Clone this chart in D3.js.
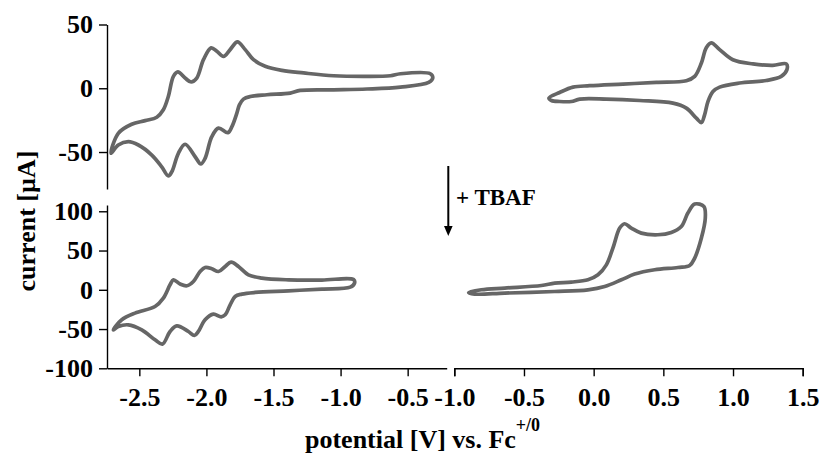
<!DOCTYPE html>
<html>
<head>
<meta charset="utf-8">
<script src="https://cdn.jsdelivr.net/npm/d3@7"></script>
<style>
  html, body { margin: 0; padding: 0; background: #fff; }
  svg { display: block; }
  text { font-family: "Liberation Serif", "Times New Roman", serif; font-weight: bold; fill: #000; }
</style>
</head>
<body>
<svg id="chart" width="821" height="456"></svg>
<script>
// Cyclic voltammograms: [potential (V vs Fc+/0), current (µA)], each a closed scan loop.
// Before TBAF, reduction window
const cvTopLeft = [
  [-2.711,-51.0],[-2.657,-35.3],[-2.557,-28.2],[-2.457,-25.4],[-2.370,-22.7],[-2.321,-16.9],
  [-2.284,-6.5],[-2.246,9.3],[-2.213,12.8],[-2.159,8.0],[-2.114,4.9],[-2.072,8.0],[-2.022,22.4],
  [-1.965,31.7],[-1.922,29.0],[-1.873,25.0],[-1.823,30.3],[-1.769,36.4],[-1.711,30.3],[-1.649,22.4],
  [-1.562,17.2],[-1.437,14.0],[-1.276,12.0],[-1.052,9.8],[-0.803,9.3],[-0.629,9.8],[-0.554,11.4],
  [-0.331,11.4],[-0.313,8.0],[-0.343,4.6],[-0.554,0.9],[-0.803,-0.6],[-1.052,-1.2],[-1.301,-1.7],
  [-1.375,-3.8],[-1.549,-5.1],[-1.674,-6.5],[-1.724,-8.5],[-1.754,-13.0],[-1.773,-19.5],[-1.810,-30.1],
  [-1.840,-34.8],[-1.910,-31.3],[-1.960,-38.0],[-2.010,-55.0],[-2.042,-59.4],[-2.084,-53.7],
  [-2.159,-43.9],[-2.209,-51.0],[-2.258,-65.5],[-2.284,-68.7],[-2.333,-61.6],[-2.407,-52.4],
  [-2.507,-44.5],[-2.582,-41.9],[-2.657,-44.5]
];
// Before TBAF, oxidation window
const cvTopRight = [
  [-0.321,-7.7],[-0.244,-3.3],[-0.148,0.9],[-0.029,2.0],[0.210,3.3],[0.450,4.6],[0.665,5.9],
  [0.725,9.3],[0.773,19.8],[0.808,31.7],[0.844,35.6],[0.904,30.3],[0.999,22.4],[1.143,19.1],
  [1.286,18.0],[1.382,19.1],[1.387,14.6],[1.346,9.3],[1.239,6.1],[1.047,4.1],[0.904,0.9],
  [0.856,-2.5],[0.820,-10.4],[0.796,-20.9],[0.773,-26.9],[0.737,-23.5],[0.665,-15.6],[0.569,-11.7],
  [0.330,-9.6],[0.091,-8.5],[-0.100,-8.5],[-0.160,-10.4],[-0.244,-10.4],[-0.303,-9.6]
];
// After TBAF, reduction window
const cvBottomLeft = [
  [-2.694,-51.0],[-2.631,-38.2],[-2.532,-29.7],[-2.383,-21.3],[-2.321,-10.6],[-2.271,6.4],
  [-2.246,12.7],[-2.196,7.3],[-2.146,5.1],[-2.097,10.6],[-2.047,23.3],[-2.010,28.4],[-1.960,26.8],
  [-1.910,23.3],[-1.860,29.7],[-1.816,35.3],[-1.761,29.7],[-1.687,19.1],[-1.587,14.9],[-1.388,12.7],
  [-1.139,12.4],[-0.903,13.1],[-0.896,8.5],[-0.928,3.4],[-1.139,0.9],[-1.388,-1.3],[-1.637,-3.4],
  [-1.736,-5.5],[-1.786,-8.5],[-1.823,-19.1],[-1.860,-31.8],[-1.890,-34.4],[-1.948,-31.0],
  [-2.010,-38.2],[-2.060,-53.1],[-2.090,-58.2],[-2.134,-53.1],[-2.221,-45.9],[-2.271,-53.1],
  [-2.328,-69.2],[-2.383,-63.7],[-2.482,-51.0],[-2.582,-44.6],[-2.657,-46.8]
];
// After TBAF, oxidation window
const cvBottomRight = [
  [-0.897,-3.4],[-0.806,0.0],[-0.638,2.2],[-0.375,5.5],[-0.280,8.5],[-0.160,9.8],[-0.041,12.7],
  [0.031,19.1],[0.091,31.8],[0.138,53.1],[0.187,78.6],[0.222,84.1],[0.270,78.6],[0.342,72.2],
  [0.461,70.1],[0.557,73.0],[0.629,80.6],[0.676,97.7],[0.725,109.2],[0.791,106.1],[0.801,91.3],
  [0.773,65.9],[0.725,40.4],[0.689,31.0],[0.605,28.4],[0.438,25.5],[0.294,20.0],[0.199,12.7],
  [0.079,4.2],[-0.041,0.0],[-0.280,-2.2],[-0.638,-4.2],[-0.854,-5.5]
];

// Axis ticks and their labels
const xLeftTicks = [-2.5, -2.0, -1.5, -1.0, -0.5];
const xLeftLabels = ["-2.5", "-2.0", "-1.5", "-1.0", "-0.5"];
const xRightTicks = [-1.0, -0.5, 0.0, 0.5, 1.0, 1.5];
const xRightLabels = ["-1.0", "-0.5", "0.0", "0.5", "1.0", "1.5"];
const yTopTicks = [-50, 0, 50];
const yTopLabels = ["-50", "0", "50"];
const yBotTicks = [-100, -50, 0, 50, 100];
const yBotLabels = ["-100", "-50", "0", "50", "100"];

const svg = d3.select("#chart");

// Scales: two potential windows side by side, two current panels stacked
const xLeft = d3.scaleLinear().domain([-2.741, -0.209]).range([107, 446.7]);
const xRight = d3.scaleLinear().domain([-1.0, 1.5]).range([454.3, 802.7]);
const yTop = d3.scaleLinear().domain([-79, 50]).range([189, 24.5]);
const yBot = d3.scaleLinear().domain([-100, 108]).range([368.3, 205]);

const tickFont = 26;

function styleAxis(g) {
  g.select(".domain").attr("stroke", "#000").attr("stroke-width", 1.4);
  g.selectAll(".tick line").attr("stroke", "#000").attr("stroke-width", 1.4);
  g.selectAll(".tick text")
    .attr("font-size", tickFont)
    .attr("font-family", "'Liberation Serif', 'Times New Roman', serif")
    .attr("font-weight", "bold")
    .attr("fill", "#000");
}

function labelFor(ticks, labels) {
  return d => labels[ticks.indexOf(d)];
}

// Y axes
svg.append("g").attr("transform", "translate(107,0)")
  .call(d3.axisLeft(yTop).tickValues(yTopTicks).tickFormat(labelFor(yTopTicks, yTopLabels))
    .tickSize(8).tickSizeOuter(0).tickPadding(6))
  .call(styleAxis);

svg.append("g").attr("transform", "translate(107,0)")
  .call(d3.axisLeft(yBot).tickValues(yBotTicks).tickFormat(labelFor(yBotTicks, yBotLabels))
    .tickSize(8).tickSizeOuter(0).tickPadding(6))
  .call(styleAxis);

// X axes (shared by both panels)
const xAxisY = yBot(-100);
svg.append("g").attr("transform", `translate(0,${xAxisY})`)
  .call(d3.axisBottom(xLeft).tickValues(xLeftTicks).tickFormat(labelFor(xLeftTicks, xLeftLabels))
    .tickSize(8).tickSizeOuter(0).tickPadding(11))
  .call(styleAxis);

svg.append("g").attr("transform", `translate(0,${xAxisY})`)
  .call(d3.axisBottom(xRight).tickValues(xRightTicks).tickFormat(labelFor(xRightTicks, xRightLabels))
    .tickSize(8).tickSizeOuter(8).tickPadding(11))
  .call(styleAxis);

// Voltammogram loops
const curveColor = "#666666";
function drawLoop(data, x, y) {
  const line = d3.line()
    .x(d => x(d[0]))
    .y(d => y(d[1]))
    .curve(d3.curveCatmullRomClosed.alpha(0.5));
  svg.append("path")
    .datum(data)
    .attr("d", line)
    .attr("fill", "none")
    .attr("stroke", curveColor)
    .attr("stroke-width", 3.7)
    .attr("stroke-linejoin", "round");
}
drawLoop(cvTopLeft, xLeft, yTop);
drawLoop(cvTopRight, xRight, yTop);
drawLoop(cvBottomLeft, xLeft, yBot);
drawLoop(cvBottomRight, xRight, yBot);

// Axis titles
svg.append("text")
  .attr("transform", "translate(35,221) rotate(-90)")
  .attr("text-anchor", "middle")
  .attr("font-size", 26)
  .text("current [µA]");

const xTitle = svg.append("text")
  .attr("x", 305)
  .attr("y", 448)
  .attr("font-size", 26);
xTitle.append("tspan").text("potential [V] vs. Fc");
xTitle.append("tspan").attr("dy", -17).attr("font-size", 18).text("+/0");

// Arrow marking the TBAF addition
svg.append("line")
  .attr("x1", 448.3).attr("y1", 166)
  .attr("x2", 448.3).attr("y2", 228)
  .attr("stroke", "#000").attr("stroke-width", 2);
svg.append("path")
  .attr("d", "M444,226 L452.6,226 L448.3,236 Z")
  .attr("fill", "#000");
svg.append("text")
  .attr("x", 456)
  .attr("y", 205)
  .attr("font-size", 23)
  .text("+ TBAF");
</script>
</body>
</html>
